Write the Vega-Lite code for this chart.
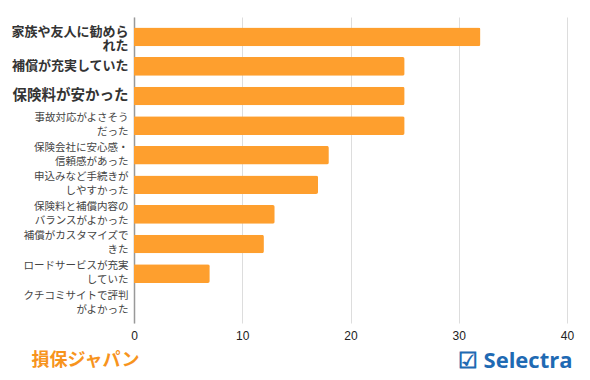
{
  "$schema": "https://vega.github.io/schema/vega-lite/v6.json",
  "autosize": "none",
  "width": 433,
  "height": 306,
  "padding": {"left": 134, "top": 17, "right": 23, "bottom": 57},
  "background": "white",
  "config": {"view": {"stroke": null}},
  "data": {
    "values": [
      {"reason": "家族や友人に勧めら|れた", "count": 32},
      {"reason": "補償が充実していた", "count": 25},
      {"reason": "保険料が安かった", "count": 25},
      {"reason": "事故対応がよさそう|だった", "count": 25},
      {"reason": "保険会社に安心感・|信頼感があった", "count": 18},
      {"reason": "申込みなど手続きが|しやすかった", "count": 17},
      {"reason": "保険料と補償内容の|バランスがよかった", "count": 13},
      {"reason": "補償がカスタマイズで|きた", "count": 12},
      {"reason": "ロードサービスが充実|していた", "count": 7},
      {"reason": "クチコミサイトで評判|がよかった", "count": 0}
    ]
  },
  "mark": {"type": "bar", "color": "#fe9f2e", "cornerRadiusEnd": 2},
  "encoding": {
    "y": {
      "field": "reason",
      "type": "nominal",
      "sort": null,
      "scale": {"paddingInner": 0.37, "paddingOuter": 0.355},
      "axis": {
        "title": "損保ジャパン",
        "titleAngle": 0,
        "titleX": -103,
        "titleY": 343,
        "titleAlign": "left",
        "titleBaseline": "middle",
        "titleFont": "Noto Sans CJK JP",
        "titleFontSize": 18,
        "titleFontWeight": "bold",
        "titleColor": "#f7941d",
        "labelExpr": "split(datum.value, '|')",
        "labelFont": "Noto Sans CJK JP",
        "labelLineHeight": 14,
        "labelBaseline": "middle",
        "labelOffset": {
          "condition": [
            {"test": "datum.value === '家族や友人に勧めら|れた'", "value": -5},
            {"test": "indexof(datum.value, '|') >= 0", "value": -7.5}
          ],
          "value": 0
        },
        "labelFontSize": {
          "condition": [
            {"test": "datum.value === '保険料が安かった'", "value": 14.5},
            {"test": "datum.value === '家族や友人に勧めら|れた' || datum.value === '補償が充実していた'", "value": 13}
          ],
          "value": 10.5
        },
        "labelFontWeight": {
          "condition": {"test": "datum.value === '保険料が安かった' || datum.value === '家族や友人に勧めら|れた' || datum.value === '補償が充実していた'", "value": "bold"},
          "value": "normal"
        },
        "labelColor": {
          "condition": {"test": "datum.value === '保険料が安かった' || datum.value === '家族や友人に勧めら|れた' || datum.value === '補償が充実していた'", "value": "#333333"},
          "value": "#444444"
        },
        "labelPadding": 6,
        "labelLimit": 200,
        "ticks": false,
        "domainColor": "#999999",
        "domainWidth": 1.5,
        "grid": false
      }
    },
    "x": {
      "field": "count",
      "type": "quantitative",
      "scale": {"domain": [0, 40]},
      "axis": {
        "title": "☑ Selectra",
        "titleX": 438,
        "titleY": 37,
        "titleAlign": "right",
        "titleBaseline": "middle",
        "titleFont": "Open Sans",
        "titleFontSize": 22,
        "titleFontWeight": "bold",
        "titleColor": "#1f6ab3",
        "values": [0, 10, 20, 30, 40],
        "labelFont": "Liberation Sans",
        "labelFontSize": 12,
        "labelColor": "#222222",
        "labelPadding": 7,
        "labelFlush": false,
        "ticks": false,
        "domain": false,
        "grid": true,
        "gridColor": "#dddddd"
      }
    }
  }
}
